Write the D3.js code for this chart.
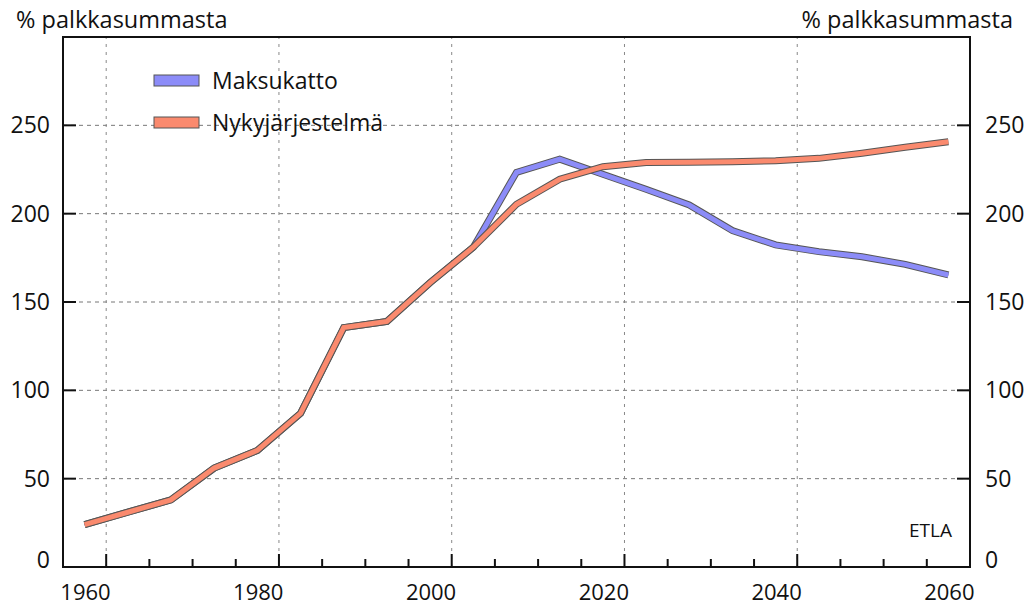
<!DOCTYPE html>
<html>
<head>
<meta charset="utf-8">
<script src="https://cdn.jsdelivr.net/npm/d3@7"></script>
<style>
  body { margin: 0; background: #fff; }
  text { font-family: "Open Sans", "DejaVu Sans", sans-serif; fill: #111; }
</style>
</head>
<body>
<div id="chart"></div>
<script>
// chart size
const width = 1027;
const height = 607;
const margin = {top: 37, right: 57, bottom: 40, left: 63};

// data: 5-year period midpoints
const years = [1957.5, 1962.5, 1967.5, 1972.5, 1977.5, 1982.5, 1987.5, 1992.5, 1997.5, 2002.5,
  2007.5, 2012.5, 2017.5, 2022.5, 2027.5, 2032.5, 2037.5, 2042.5, 2047.5, 2052.5, 2057.5];
const maksukatto = [24, 31, 38, 56, 66, 87, 135.5, 139, 161, 181,
  223.4, 230.8, 222.3, 213.8, 204.9, 190.4, 182.3, 178.5, 175.6, 171.3, 165.3];
const nykyjarjestelma = [24, 31, 38, 56, 66, 87, 135.5, 139, 161, 181,
  205.3, 219.5, 226.6, 228.9, 229.1, 229.4, 230.0, 231.3, 234.2, 237.6, 240.7];
const seriesNames = ["Maksukatto", "Nykyjärjestelmä"];
const seriesColors = ["#8c8cf8", "#fa8a6e"];
const xTicks = [1960, 1980, 2000, 2020, 2040, 2060];
const yTicks = [0, 50, 100, 150, 200, 250];

const svg = d3.select("#chart")
  .append("svg")
  .attr("width", width)
  .attr("height", height);

const x = d3.scaleLinear().domain([1955, 2060]).range([margin.left, width - margin.right]);
const y = d3.scaleLinear().domain([0, 300]).range([height - margin.bottom, margin.top]);

// gridlines
svg.append("g")
  .selectAll("line")
  .data(yTicks.filter(d => d > 0))
  .enter().append("line")
  .attr("x1", x(1955)).attr("x2", x(2060))
  .attr("y1", d => y(d)).attr("y2", d => y(d))
  .attr("stroke", "#777").attr("stroke-width", 1)
  .attr("stroke-dasharray", "4,4");

svg.append("g")
  .selectAll("line")
  .data(xTicks.filter(d => d < 2060))
  .enter().append("line")
  .attr("x1", d => x(d)).attr("x2", d => x(d))
  .attr("y1", y(0)).attr("y2", y(300))
  .attr("stroke", "#888").attr("stroke-width", 1)
  .attr("stroke-dasharray", "3,5");

// lines: dark outline underneath then coloured stroke
const line = d3.line().x(d => x(d[0])).y(d => y(d[1]));
[maksukatto, nykyjarjestelma].forEach((vals, i) => {
  const pts = years.map((yr, j) => [yr, vals[j]]);
  svg.append("path").attr("d", line(pts))
    .attr("fill", "none").attr("stroke", "#555").attr("stroke-width", 7);
  svg.append("path").attr("d", line(pts))
    .attr("fill", "none").attr("stroke", seriesColors[i]).attr("stroke-width", 5);
});

// frame
svg.append("rect")
  .attr("x", x(1955)).attr("y", y(300))
  .attr("width", x(2060) - x(1955)).attr("height", y(0) - y(300))
  .attr("fill", "none").attr("stroke", "#111").attr("stroke-width", 2);

// x axis: labels sit just left of their tick
const xAxis = svg.append("g").attr("transform", `translate(0,${y(0)})`)
  .call(d3.axisBottom(x).tickValues(xTicks).tickFormat(d3.format("d")).tickSize(0).tickPadding(0));
xAxis.select(".domain").remove();
xAxis.selectAll("text")
  .attr("font-size", 22).style("font-family", "'Open Sans', sans-serif").attr("fill", "#111")
  .attr("text-anchor", "end").attr("x", 4).attr("y", 33).attr("dy", null);

svg.append("g")
  .selectAll("line")
  .data(d3.range(1960, 2060, 5))
  .enter().append("line")
  .attr("x1", d => x(d)).attr("x2", d => x(d))
  .attr("y1", y(0)).attr("y2", d => d % 20 === 0 ? y(0) - 13 : y(0) - 8)
  .attr("stroke", "#111").attr("stroke-width", 2);

// y axes
const yLeft = svg.append("g").attr("transform", `translate(${x(1955)},0)`)
  .call(d3.axisLeft(y).tickValues(yTicks).tickSize(0).tickPadding(13));
const yRight = svg.append("g").attr("transform", `translate(${x(2060)},0)`)
  .call(d3.axisRight(y).tickValues(yTicks).tickSize(0).tickPadding(15));
[yLeft, yRight].forEach(g => {
  g.select(".domain").remove();
  g.selectAll("text").attr("font-size", 23).style("font-family", "'Open Sans', sans-serif").attr("fill", "#111");
  g.selectAll(".tick").filter(d => d === 0).select("text").attr("y", -7);
});
svg.append("g").selectAll("line").data(yTicks.filter(d => d > 0)).enter().append("line")
  .attr("x1", x(1955)).attr("x2", x(1955) + 13)
  .attr("y1", d => y(d)).attr("y2", d => y(d))
  .attr("stroke", "#111").attr("stroke-width", 2);
svg.append("g").selectAll("line").data(yTicks.filter(d => d > 0)).enter().append("line")
  .attr("x1", x(2060)).attr("x2", x(2060) - 13)
  .attr("y1", d => y(d)).attr("y2", d => y(d))
  .attr("stroke", "#111").attr("stroke-width", 2);

// axis titles
svg.append("text").attr("x", 16).attr("y", 28).attr("font-size", 23.5).text("% palkkasummasta");
svg.append("text").attr("x", 1013).attr("y", 28).attr("font-size", 23.5)
  .attr("text-anchor", "end").text("% palkkasummasta");

// legend
const legend = svg.append("g");
seriesNames.forEach((name, i) => {
  legend.append("rect")
    .attr("x", 154).attr("y", 75 + i * 42)
    .attr("width", 45).attr("height", 11)
    .attr("fill", seriesColors[i]).attr("stroke", "#555").attr("stroke-width", 1);
  legend.append("text")
    .attr("x", 212).attr("y", 89 + i * 42)
    .attr("font-size", 23).text(name);
});

// source
svg.append("text").attr("x", 952).attr("y", 537).attr("font-size", 19)
  .attr("text-anchor", "end").text("ETLA");
</script>
</body>
</html>
